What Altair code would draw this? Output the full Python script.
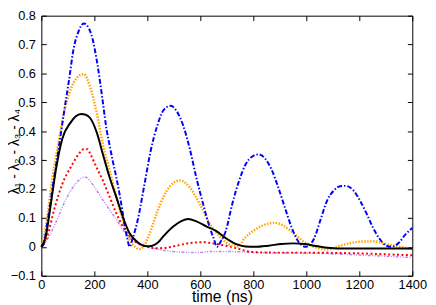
import altair as alt
import pandas as pd

x_ticks = [0, 200, 400, 600, 800, 1000, 1200, 1400]
y_ticks = [-0.1, 0.0, 0.1, 0.2, 0.3, 0.4, 0.5, 0.6, 0.7, 0.8]

blue_t = [0, 10, 20, 30, 48, 67, 85, 104, 122, 140, 160, 180, 196, 210, 221, 233, 246, 258,
          270, 283, 295, 305, 314, 324, 333, 345, 363, 388, 412, 437, 462, 488, 511, 536, 560,
          585, 610, 634, 650, 663, 675, 696, 721, 746, 770, 795, 820, 844, 869, 894, 918, 943,
          968, 999, 1030, 1054, 1079, 1104, 1128, 1147, 1178, 1202, 1227, 1252, 1277, 1300,
          1322, 1351, 1375, 1400]
blue_v = [0, 0.01, 0.07, 0.128, 0.239, 0.351, 0.463, 0.575, 0.687, 0.745, 0.773, 0.755, 0.709,
          0.64, 0.575, 0.494, 0.407, 0.35, 0.295, 0.24, 0.183, 0.13, 0.075, 0.03, 0.0, 0.03,
          0.09, 0.21, 0.33, 0.418, 0.474, 0.488, 0.469, 0.418, 0.34, 0.239, 0.15, 0.071, 0.03,
          0.0, 0.015, 0.055, 0.15, 0.228, 0.284, 0.312, 0.32, 0.306, 0.267, 0.206, 0.139, 0.071,
          0.021, 0.0, 0.03, 0.095, 0.161, 0.195, 0.21, 0.211, 0.195, 0.161, 0.116, 0.066, 0.027,
          0.005, 0.0, 0.016, 0.044, 0.065]

orange_t = [0, 17, 42, 67, 91, 116, 140, 160, 184, 209, 233, 258, 283, 307, 332, 350, 368, 385,
            406, 437, 462, 486, 523, 560, 597, 634, 671, 696, 720, 740, 770, 807, 844, 881, 918,
            956, 993, 1030, 1079, 1116, 1153, 1202, 1252, 1301, 1351, 1400]
orange_v = [0, 0.071, 0.239, 0.374, 0.486, 0.558, 0.59, 0.598, 0.553, 0.463, 0.351, 0.262, 0.172,
            0.094, 0.027, 0.003, -0.008, 0.0, 0.04, 0.12, 0.175, 0.21, 0.23, 0.206, 0.15, 0.083,
            0.038, 0.016, 0.004, 0.002, 0.033, 0.06, 0.077, 0.083, 0.071, 0.044, 0.016, 0.0,
            -0.009, 0.0, 0.01, 0.018, 0.019, 0.01, 0.0, -0.007]

black_t = [0, 17, 36, 54, 79, 110, 130, 150, 165, 184, 209, 233, 258, 283, 307, 332, 357, 380,
           400, 419, 440, 462, 499, 530, 554, 585, 622, 659, 696, 733, 770, 807, 857, 906, 950,
           993, 1030, 1079, 1153, 1250, 1400]
black_v = [0, 0.038, 0.15, 0.262, 0.374, 0.43, 0.452, 0.46, 0.458, 0.446, 0.396, 0.318, 0.239,
           0.172, 0.105, 0.049, 0.021, 0.006, 0.002, 0.004, 0.015, 0.038, 0.071, 0.09, 0.096,
           0.088, 0.071, 0.055, 0.03, 0.01, 0.001, 0.0, 0.004, 0.01, 0.012, 0.01, 0.004, -0.003,
           -0.006, -0.006, -0.006]

red_t = [0, 23, 48, 79, 116, 140, 160, 175, 184, 209, 233, 258, 283, 307, 332, 357, 394, 430,
         462, 511, 560, 610, 659, 696, 733, 795, 881, 1004, 1100, 1215, 1300, 1400]
red_v = [0, 0.038, 0.128, 0.217, 0.284, 0.32, 0.338, 0.338, 0.323, 0.273, 0.228, 0.172, 0.116,
         0.071, 0.038, 0.016, 0.002, -0.005, -0.004, 0.004, 0.013, 0.016, 0.01, 0.004, -0.004,
         -0.018, -0.02, -0.02, -0.021, -0.023, -0.026, -0.029]

purple_t = [0, 23, 54, 91, 128, 150, 165, 184, 209, 233, 258, 283, 307, 332, 357, 394, 430, 462,
            523, 585, 647, 696, 820, 1054, 1215, 1400]
purple_v = [0, 0.027, 0.083, 0.161, 0.217, 0.237, 0.242, 0.228, 0.195, 0.161, 0.128, 0.094, 0.06,
            0.033, 0.016, 0.004, -0.006, -0.012, -0.018, -0.02, -0.016, -0.016, -0.02, -0.023,
            -0.029, -0.037]

FONT = "Liberation Sans"
xscale = alt.Scale(domain=[0, 1400], nice=False, zero=False)
yscale = alt.Scale(domain=[-0.1, 0.8], nice=False, zero=False)

x_main = alt.Axis(values=x_ticks, title="time (ns)", offset=-5, tickSize=5, domain=False,
                  grid=False, tickColor="black", labelColor="black", titleColor="black",
                  labelFont=FONT, labelFontSize=13, labelPadding=3, labelFlush=False,
                  format="d",
                  titleFont=FONT, titleFontSize=16, titleFontWeight="normal",
                  titleX=184, titleY=31, titleBaseline="alphabetic")
y_main = alt.Axis(values=y_ticks, title="λ₁ - λ₂ - λ₃ - λ₄", offset=-5, tickSize=5, domain=False,
                  grid=False, tickColor="black", labelColor="black", titleColor="black",
                  labelFont=FONT, labelFontSize=13, labelPadding=6,
                  labelExpr="datum.value == 0 ? '0' : format(datum.value, '.1f')",
                  titleFont=FONT, titleFontSize=14, titleFontWeight="normal",
                  titleAngle=270, titleX=-32, titleY=138, titleBaseline="middle",
                  titleAlign="center")
x_top = alt.Axis(orient="top", values=x_ticks, title="", labels=False, offset=-5, tickSize=5,
                 domain=False, grid=False, tickColor="black")
y_right = alt.Axis(orient="right", values=y_ticks, title="", labels=False, offset=-5, tickSize=5,
                   domain=False, grid=False, tickColor="black")


def line(t, v, color, width, dash, xaxis=None, yaxis=None):
    df = pd.DataFrame({"t": t, "v": v})
    kw = dict(color=color, strokeWidth=width, interpolate="monotone")
    if dash:
        kw["strokeDash"] = dash
    xa = xaxis if xaxis is not None else alt.Axis(labels=False, ticks=False, domain=False,
                                                     grid=False, title="")
    ya = yaxis if yaxis is not None else alt.Axis(labels=False, ticks=False, domain=False,
                                                     grid=False, title="")
    return alt.Chart(df).mark_line(**kw).encode(
        x=alt.X("t:Q", scale=xscale, axis=xa),
        y=alt.Y("v:Q", scale=yscale, axis=ya),
    )


layers = [
    line(purple_t, purple_v, "#bb88ee", 1.5, [3, 1.5, 1, 1.5, 1, 1.5], x_main, y_main),
    line(red_t, red_v, "#ff0000", 2, [2, 2.5]),
    line(orange_t, orange_v, "#ffa500", 2.5, [1.5, 1.5]),
    line(blue_t, blue_v, "#0000ff", 2, [5, 2, 1.5, 2]),
    line(black_t, black_v, "#000000", 2, None, x_top, y_right),
]

chart = alt.layer(*layers).resolve_axis(x="independent", y="independent").properties(
    width=378, height=265,
    autosize=alt.AutoSizeParams(type="none"),
    padding={"left": 34, "top": 5, "right": 16, "bottom": 27},
).configure_view(stroke="black", strokeWidth=1)

chart.save("out.html", embed_options={"renderer": "svg", "actions": False})
